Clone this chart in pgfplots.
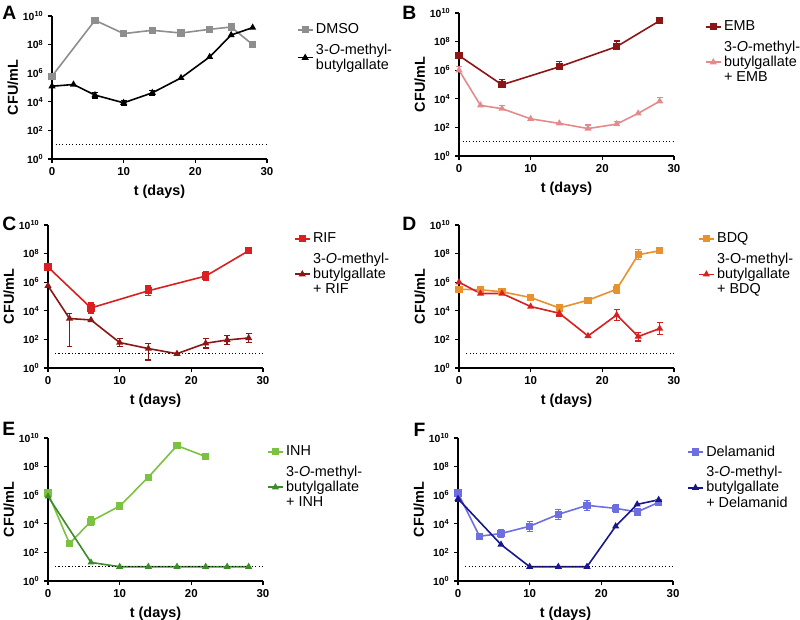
\documentclass[border=0pt]{standalone}
\usepackage{fontspec}
\setmainfont{Liberation Sans}
\setsansfont{Liberation Sans}
\usepackage{pgfplots}
\pgfplotsset{compat=1.18}
\definecolor{cgray}{HTML}{8E8E8E}
\definecolor{cdred}{HTML}{8C1616}
\definecolor{cpink}{HTML}{E58A8C}
\definecolor{cred}{HTML}{D91F1F}
\definecolor{corange}{HTML}{E8912D}
\definecolor{clgreen}{HTML}{7CC242}
\definecolor{cdgreen}{HTML}{3D8C2A}
\definecolor{cperi}{HTML}{6E6EE3}
\definecolor{cnavy}{HTML}{18188C}

\pgfplotsset{
 panel/.style={
  anchor=south west, width=161.25pt, height=107.25pt, scale only axis,
  xmin=0, xmax=30, ymin=0, ymax=10, clip=false,
  axis x line*=bottom, axis y line*=left,
  xtick={0,10,20,30}, xticklabels={0,10,20,30},
  ytick={0,2,4,6,8,10},
  yticklabels={10\textsuperscript{0},10\textsuperscript{2},10\textsuperscript{4},10\textsuperscript{6},10\textsuperscript{8},10\textsuperscript{10}},
  tick align=outside, major tick length=3pt,
  every tick/.style={black, line width=1pt},
  axis line style={black, line width=1pt},
  xticklabel style={font=\bfseries\fontsize{8.6}{10}\selectfont},
  yticklabel style={font=\bfseries\fontsize{7.8}{9}\selectfont},
  xlabel={t (days)}, ylabel={CFU/mL},
  label style={font=\bfseries\fontsize{10.8}{13}\selectfont},
  ylabel style={at={(rel axis cs:-0.135,0.5)}, anchor=south},
  legend cell align=left,
  legend style={draw=none, fill=none, at={(1.12,0.985)}, anchor=north west,
   font=\fontsize{10.8}{11.5}\selectfont, row sep=2pt,
   nodes={align=left, inner sep=2pt}},
  legend image code/.code={\draw[mark repeat=2,mark phase=2] plot coordinates {(0pt,0pt) (5.5pt,0pt) (11pt,0pt)};},
 },
 sq/.style={mark=square*, mark size=2.1pt, line width=1.2pt, mark options={solid}},
 tri/.style={mark=triangle*, mark size=1.9pt, line width=1.2pt, mark options={solid}},
 eb/.style={error bars/.cd, y dir=both, y explicit,
  error bar style={line width=1pt, solid},
  error mark options={rotate=90, mark size=2.2pt, line width=1pt}},
 lod/.style={forget plot, black, line width=0.8pt, dash pattern=on 0.9pt off 1.6pt, mark=none},
}

\begin{document}
\begin{tikzpicture}
\useasboundingbox (0,0) rectangle (600pt,-464.25pt);

% A
\begin{axis}[panel, at={(39pt,-119.25pt)}, legend style={at={(1.12,0.985)}}]
\addplot[cgray, sq] coordinates {(0,5.79) (6,9.7) (10,8.77) (14,9.0) (18,8.81) (22,9.07) (25,9.23) (28,8.0)};
\addlegendentry{DMSO}
\addplot[black, tri, eb] coordinates {(0,5.09) += (0,0.45) -= (0,0.1) (3,5.21) (6,4.47) +- (0,0.2) (10,3.93) +- (0,0.15) (14,4.63) +- (0,0.15) (18,5.67) (22,7.14) (25,8.67) (28,9.19)};
\addlegendentry{3-\textit{O}-methyl-\\butylgallate}
\addplot[lod] coordinates {(0.5,1) (30,1)};
\end{axis}

% B
\begin{axis}[panel, at={(344.25pt,-117pt)}, legend style={at={(1.125,0.985)}}]
\addplot[cdred, sq, eb] coordinates {(0,7.02) (6,4.98) += (0,0.35) (14,6.24) += (0,0.35) (22,7.65) += (0,0.4) (28,9.46)};
\addlegendentry{EMB}
\addplot[cpink, tri, eb] coordinates {(0,6.0) += (0,0.25) (3,3.54) (6,3.31) += (0,0.2) (10,2.6) (14,2.28) (18,1.92) += (0,0.25) (22,2.23) += (0,0.2) (25,2.98) (28,3.83) += (0,0.25)};
\addlegendentry{3-\textit{O}-methyl-\\butylgallate\\+ EMB}
\addplot[lod] coordinates {(0.5,1) (30,1)};
\end{axis}

% C
\begin{axis}[panel, at={(36pt,-276pt)}, legend style={at={(1.125,0.985)}}]
\addplot[cred, sq, eb] coordinates {(0,7.06) (6,4.2) +- (0,0.35) (14,5.4) +- (0,0.33) (22,6.43) +- (0,0.33) (28,8.2)};
\addlegendentry{RIF}
\addplot[cdred, tri, eb] coordinates {(0,5.75) (3,3.46) += (0,0.33) -= (0,1.94) (6,3.36) (10,1.78) +- (0,0.27) (14,1.36) += (0,0.37) -= (0,0.8) (18,1.0) (22,1.73) +- (0,0.33) (25,1.96) +- (0,0.33) (28,2.1) +- (0,0.33)};
\addlegendentry{3-\textit{O}-methyl-\\butylgallate\\+ RIF}
\addplot[lod] coordinates {(1,1) (30,1)};
\end{axis}

% D
\begin{axis}[panel, at={(344.25pt,-276pt)}, legend style={at={(1.093,0.985)}}]
\addplot[corange, sq, eb] coordinates {(0,5.51) (3,5.47) (6,5.33) (10,4.93) (14,4.2) (18,4.74) (22,5.51) +- (0,0.3) (25,7.92) +- (0,0.35) (28,8.2) +- (0,0.15)};
\addlegendentry{BDQ}
\addplot[cred, tri, eb] coordinates {(0,6.0) (3,5.21) (6,5.21) (10,4.3) (14,3.83) +- (0,0.2) (18,2.24) (22,3.71) +- (0,0.4) (25,2.2) +- (0,0.3) (28,2.76) +- (0,0.4)};
\addlegendentry{3-O-methyl-\\butylgallate\\+ BDQ}
\addplot[lod] coordinates {(1,1) (30,1)};
\end{axis}

% E
\begin{axis}[panel, at={(36pt,-435.75pt)}, legend style={at={(1.0,0.985)}}]
\addplot[clgreen, sq, eb] coordinates {(0,6.15) (3,2.62) (6,4.18) +- (0,0.3) (10,5.24) +- (0,0.25) (14,7.26) (18,9.47) (22,8.7)};
\addlegendentry{INH}
\addplot[cdgreen, tri] coordinates {(0,5.92) (6,1.3) (10,1) (14,1) (18,1) (22,1) (25,1) (28,1)};
\addlegendentry{3-\textit{O}-methyl-\\butylgallate\\+ INH}
\addplot[lod] coordinates {(1,1) (30,1)};
\end{axis}

% F
\begin{axis}[panel, at={(343.5pt,-435.75pt)}, legend style={at={(1.047,0.985)}}]
\addplot[cperi, sq, eb] coordinates {(0,6.15) (3,3.13) (6,3.32) +- (0,0.3) (10,3.83) +- (0,0.35) (14,4.66) +- (0,0.35) (18,5.29) +- (0,0.35) (22,5.08) +- (0,0.25) (25,4.83) +- (0,0.2) (28,5.5) +- (0,0.15)};
\addlegendentry{Delamanid}
\addplot[cnavy, tri, eb] coordinates {(0,5.75) +- (0,0.2) (6,2.55) (10,1) (14,1) (18,1) (22,3.83) (25,5.36) (28,5.68)};
\addlegendentry{3-\textit{O}-methyl-\\butylgallate\\+ Delamanid}
\addplot[lod] coordinates {(1,1) (30,1)};
\end{axis}

\begin{scope}[every node/.style={anchor=north west, inner sep=0pt, font=\bfseries\fontsize{14.5}{15}\selectfont}]
\node at (1.5pt,-4.5pt) {A};
\node at (301.5pt,-4.5pt) {B};
\node at (1.5pt,-162.75pt) {C};
\node at (301.5pt,-162.75pt) {D};
\node at (1.5pt,-316.5pt) {E};
\node at (310pt,-317pt) {F};
\end{scope}
\end{tikzpicture}
\end{document}
